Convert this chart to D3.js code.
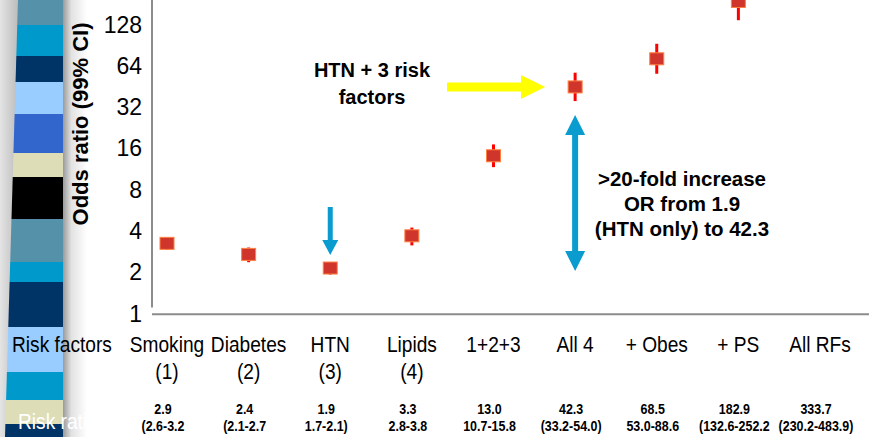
<!DOCTYPE html>
<html>
<head>
<meta charset="utf-8">
<script src="https://cdn.jsdelivr.net/npm/d3@7"></script>
<style>
  body { margin: 0; background: #fff; }
  svg { display: block; }
  text { font-family: "Liberation Sans", Arial, Helvetica, sans-serif; }
</style>
</head>
<body>
<div class="chart"></div>
<script>
// chart data
var categories = ["Smoking", "Diabetes", "HTN", "Lipids", "1+2+3", "All 4", "+ Obes", "+ PS", "All RFs"];
var subLabels = ["(1)", "(2)", "(3)", "(4)", "", "", "", "", ""];
var oddsRatio = [2.9, 2.4, 1.9, 3.3, 13.0, 42.3, 68.5, 182.9, 333.7];
var ciLow = [2.6, 2.1, 1.7, 2.8, 10.7, 33.2, 53.0, 132.6, 230.2];
var ciHigh = [3.2, 2.7, 2.1, 3.8, 15.8, 54.0, 88.6, 252.2, 483.9];
var orLabels = ["2.9", "2.4", "1.9", "3.3", "13.0", "42.3", "68.5", "182.9", "333.7"];
var ciLabels = ["(2.6-3.2", "(2.1-2.7", "1.7-2.1)", "2.8-3.8", "10.7-15.8", "(33.2-54.0)", "53.0-88.6", "(132.6-252.2", "(230.2-483.9)"];
var yTicks = [1, 2, 4, 8, 16, 32, 64, 128];

// slide decoration stripes [top, bottom, colour]
var stripes = [
  [0, 25, "#5592aa"], [25, 56, "#0099cc"], [56, 82, "#003366"], [82, 114, "#99ccff"],
  [114, 153, "#3366cc"], [153, 177, "#ddddb8"], [177, 219, "#000000"], [219, 262, "#5592aa"],
  [262, 282, "#0099cc"], [282, 327, "#003366"], [327, 372, "#99ccff"], [372, 400, "#0099cc"],
  [400, 424, "#ddddb8"], [424, 437, "#003366"]
];

var svgWidth = 869;
var svgHeight = 437;
var narrow = 0.87; // horizontal squeeze to mimic Arial Narrow

var svg = d3.select(".chart")
  .append("svg")
  .attr("width", svgWidth)
  .attr("height", svgHeight);

var defs = svg.append("defs");
var lg = defs.append("linearGradient").attr("id", "leftShade");
lg.append("stop").attr("offset", "0%").attr("stop-color", "#e4e4e4");
lg.append("stop").attr("offset", "100%").attr("stop-color", "#b8b8b8");
var pg = defs.append("linearGradient").attr("id", "panelShade");
pg.append("stop").attr("offset", "0%").attr("stop-color", "#9a9a9a");
pg.append("stop").attr("offset", "35%").attr("stop-color", "#e2e2e2");
pg.append("stop").attr("offset", "100%").attr("stop-color", "#ffffff");

// left decoration
svg.append("rect").attr("x", 0).attr("y", 0).attr("width", 20).attr("height", svgHeight)
  .attr("fill", "url(#leftShade)");

function leftEdge(y) { return 18 - 13 * y / svgHeight; }

svg.append("g").selectAll("path")
  .data(stripes)
  .enter()
  .append("path")
  .attr("d", function(s) {
    return "M" + leftEdge(s[0]) + "," + s[0] + "L66," + s[0] + "L66," + s[1] + "L" + leftEdge(s[1]) + "," + s[1] + "Z";
  })
  .attr("fill", d => d[2]);

// white content panel with shadow
svg.append("rect").attr("x", 86).attr("y", 0).attr("width", svgWidth - 86).attr("height", svgHeight).attr("fill", "#fff");
svg.append("rect").attr("x", 63).attr("y", 0).attr("width", 24).attr("height", svgHeight).attr("fill", "url(#panelShade)");

// white text from the slide
svg.append("text")
  .attr("transform", "translate(18,429) scale(" + narrow + ",1)")
  .attr("fill", "#fff")
  .attr("font-size", 22)
  .text("Risk ratio");

// scales
var x = d3.scalePoint()
  .domain(categories)
  .range([167, 820]);

var y = d3.scaleLog()
  .base(2)
  .domain([1, 128])
  .range([305.5, 22.3]);

// the slide's tick labels sit on a slightly different spacing
var yLabel = d3.scaleLog()
  .base(2)
  .domain([1, 128])
  .range([313, 24]);

var axisColor = "#8c8c8c";

// axes lines
svg.append("line")
  .attr("x1", 152).attr("x2", 152)
  .attr("y1", 0).attr("y2", y(1) + 2)
  .attr("stroke", axisColor).attr("stroke-width", 2);
svg.append("line")
  .attr("x1", 152).attr("x2", svgWidth)
  .attr("y1", y(0.86)).attr("y2", y(0.86))
  .attr("stroke", axisColor).attr("stroke-width", 2);

var leftAxis = d3.axisLeft(yLabel)
  .tickValues(yTicks)
  .tickSize(0)
  .tickPadding(0)
  .tickFormat(d3.format("d"));

var yAxis = svg.append("g")
  .attr("transform", "translate(142,0)")
  .call(leftAxis);
yAxis.select(".domain").remove();
yAxis.selectAll("text")
  .attr("font-family", "Liberation Sans, Arial, sans-serif")
  .attr("font-size", 23)
  .attr("fill", "#000")
  .attr("dy", "0.35em");

// y axis title
svg.append("text")
  .attr("transform", "translate(88,124) rotate(-90)")
  .attr("text-anchor", "middle")
  .attr("font-size", 22)
  .attr("font-weight", "bold")
  .text("Odds ratio (99% CI)");

// data
var dataset = categories.map(function(c, i) {
  return { cat: c, sub: subLabels[i], or: oddsRatio[i], lo: ciLow[i], hi: ciHigh[i], orText: orLabels[i], ciText: ciLabels[i] };
});

var pointGroup = svg.append("g");

pointGroup.selectAll("line.err")
  .data(dataset)
  .enter()
  .append("line")
  .attr("class", "err")
  .attr("x1", d => x(d.cat)).attr("x2", d => x(d.cat))
  .attr("y1", d => y(d.lo)).attr("y2", d => y(d.hi))
  .attr("stroke", "#ff0000")
  .attr("stroke-width", 3);

pointGroup.selectAll("rect.pt")
  .data(dataset)
  .enter()
  .append("rect")
  .attr("class", "pt")
  .attr("x", d => x(d.cat) - 7)
  .attr("y", d => y(d.or) - 6)
  .attr("width", 14)
  .attr("height", 12)
  .attr("fill", "#d0352b")
  .attr("stroke", "#ff8040")
  .attr("stroke-width", 1);

// category labels
svg.append("text")
  .attr("transform", "translate(12,352) scale(" + narrow + ",1)")
  .attr("font-size", 22)
  .text("Risk factors");

var catText = svg.append("g").attr("font-size", 22).attr("text-anchor", "middle");
catText.selectAll("text.c1")
  .data(dataset)
  .enter()
  .append("text")
  .attr("class", "c1")
  .attr("transform", d => "translate(" + x(d.cat) + ",352) scale(" + narrow + ",1)")
  .text(d => d.cat);
catText.selectAll("text.c2")
  .data(dataset)
  .enter()
  .append("text")
  .attr("class", "c2")
  .attr("transform", d => "translate(" + x(d.cat) + ",379) scale(" + narrow + ",1)")
  .text(d => d.sub);

var numText = svg.append("g").attr("font-size", 14.5).attr("font-weight", "bold").attr("text-anchor", "middle");
numText.selectAll("text.n1")
  .data(dataset)
  .enter()
  .append("text")
  .attr("class", "n1")
  .attr("transform", d => "translate(" + (x(d.cat) - 4) + ",414) scale(0.86,1)")
  .text(d => d.orText);
numText.selectAll("text.n2")
  .data(dataset)
  .enter()
  .append("text")
  .attr("class", "n2")
  .attr("transform", d => "translate(" + (x(d.cat) - 4) + ",431) scale(0.86,1)")
  .text(d => d.ciText);

// annotations
var note1 = svg.append("text").attr("font-size", 20).attr("font-weight", "bold").attr("text-anchor", "middle");
note1.append("tspan").attr("x", 372).attr("y", 77).text("HTN + 3 risk");
note1.append("tspan").attr("x", 372).attr("y", 104).text("factors");

var note2 = svg.append("text").attr("font-size", 20.5).attr("font-weight", "bold").attr("text-anchor", "middle");
note2.append("tspan").attr("x", 682).attr("y", 186).text(">20-fold increase");
note2.append("tspan").attr("x", 682).attr("y", 211).text("OR from 1.9");
note2.append("tspan").attr("x", 682).attr("y", 236).text("(HTN only) to 42.3");

// yellow arrow pointing at All 4
var ax4 = x("All 4"), ay4 = y(42.3);
svg.append("path")
  .attr("d", "M447," + (ay4 - 4.5) + "H521V" + (ay4 - 12) + "L" + (ax4 - 30) + "," + ay4 + "L521," + (ay4 + 12) + "V" + (ay4 + 4.5) + "H447Z")
  .attr("fill", "#ffff00");

// blue arrow at HTN
var blue = "#0a9ccf";
var ah = x("HTN");
svg.append("path")
  .attr("d", "M" + (ah - 2.5) + ",207V240H" + (ah - 8) + "L" + ah + ",255L" + (ah + 8) + ",240H" + (ah + 2.5) + "V207Z")
  .attr("fill", blue);

// double arrow
var topY = y(42.3) + 28, botY = y(1.9) + 3;
svg.append("path")
  .attr("d", "M" + ax4 + "," + topY + "L" + (ax4 + 10) + "," + (topY + 20) + "H" + (ax4 + 3) + "V" + (botY - 20) +
    "H" + (ax4 + 10) + "L" + ax4 + "," + botY + "L" + (ax4 - 10) + "," + (botY - 20) + "H" + (ax4 - 3) +
    "V" + (topY + 20) + "H" + (ax4 - 10) + "Z")
  .attr("fill", blue);
</script>
</body>
</html>
